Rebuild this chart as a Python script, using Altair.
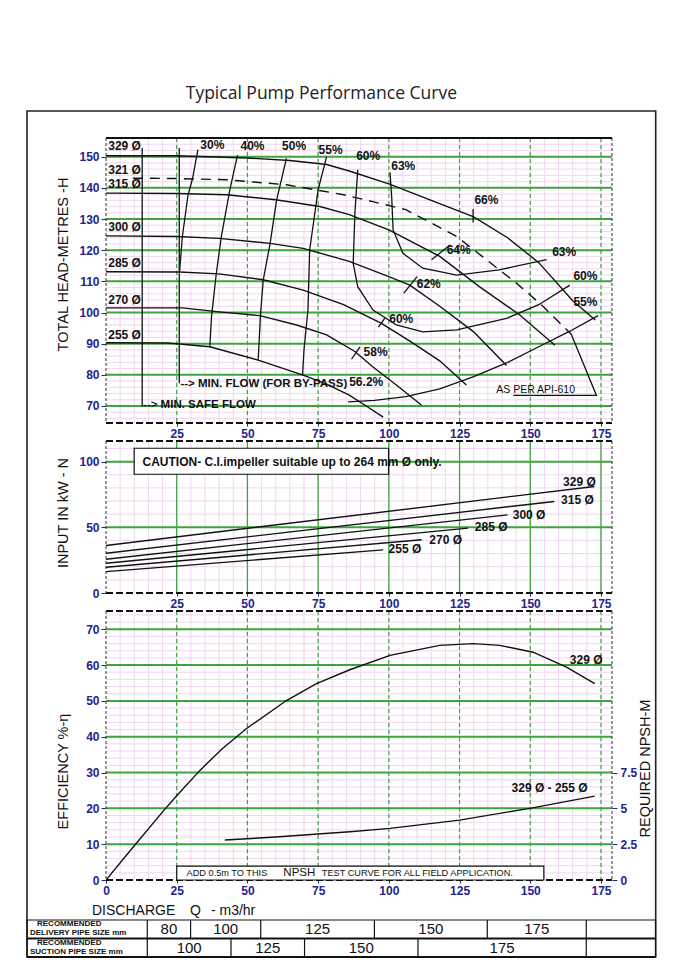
import altair as alt
import pandas as pd

TITLE = "Typical Pump Performance Curve"

# ---------- Q-H curves: (Q m3/hr, H m) per impeller diameter ----------
head_329 = [(0, 150.3), (25, 150.3), (50, 149.6), (65, 148.8), (78, 147.5), (86, 145.4), (100, 141.3),
            (115, 136.0), (130, 130.7), (142, 124.0), (153, 116.0), (165, 103.8), (173, 97.6)]
head_321 = [(9.5, 143.1), (25, 143.0), (42.6, 142.6), (63.8, 141.0), (84, 137.8), (94.3, 135.6), (106, 133.0),
            (124, 124.4), (133, 118.0), (145, 109.5), (154.5, 102.0), (164.5, 93.0)]
head_315 = [(0, 138.3), (25, 138.2), (42.6, 137.8), (60, 136.2), (75.6, 134.0), (86, 131.4), (100, 126.5),
            (118, 118.0), (132, 108.3), (146.3, 99.2), (158.7, 89.5)]
head_300 = [(0, 124.6), (25, 124.4), (40, 123.8), (58, 122.2), (69.7, 120.6), (86, 116.4), (100, 111.5),
            (107.4, 108.8), (118, 102.0), (130, 93.8), (141.6, 83.0)]
head_285 = [(0, 113.1), (26, 113.0), (40, 112.4), (55.6, 110.5), (69.7, 107.2), (84, 102.5), (97.4, 96.5),
            (108, 90.5), (118, 84.5), (127.4, 76.7)]
head_270 = [(0, 101.5), (27, 101.5), (40, 100.2), (54.4, 99.0), (67.4, 96.0), (78, 92.8), (88, 87.5),
            (94.4, 82.5), (103, 76.5), (111.5, 70.3)]
head_255 = [(0, 90.3), (22, 90.2), (36.7, 89.0), (53.8, 84.7), (69.7, 79.9), (78, 77.0), (86, 73.5),
            (92, 70.0), (98, 66.4)]

# ---------- iso-efficiency contours (Q, H) ----------
iso_30 = [(32.5, 152.3), (30.6, 143.0), (29.0, 137.7), (27.0, 124.4), (26.0, 113.0)]
iso_40 = [(46.5, 150.5), (43.8, 139.4), (40.8, 124.4), (39.0, 112.6), (37.3, 98.6), (36.7, 88.8)]
iso_50 = [(63.8, 149.5), (60.3, 136.0), (58.0, 122.0), (55.6, 110.5), (54.6, 99.0), (53.8, 84.7)]
iso_55_upper = [(78, 150.0), (75, 139.4), (72, 120.0), (71.4, 100.8), (70, 88.0), (69.5, 80.0)]
iso_55_lower = [(85.6, 71.3), (95, 71.8), (106, 73.0), (118, 75.5), (130, 79.4), (142, 84.0), (153, 89.0),
                (164, 94.0), (174, 99.0)]
iso_60 = [(89, 145.8), (88, 131.9), (87.4, 115.8), (89, 108.3), (94.4, 100.8), (102.7, 96.0), (112, 93.8),
          (124, 94.4), (141.6, 98.1), (153, 102.5), (164, 108.8)]
iso_63 = [(100.4, 145.0), (101, 137.2), (101.5, 126.5), (105, 119.0), (112, 114.2), (124, 112.0),
          (139, 113.7), (155.8, 117.0)]
tick_66 = [(129.8, 133.2), (129.8, 128.9)]
tick_64 = [(115.1, 116.9), (121.6, 121.7)]
tick_62 = [(105.3, 106.2), (110.0, 111.5)]
tick_60 = [(96.3, 95.3), (98.6, 98.2)]
tick_58 = [(86.8, 85.0), (89.8, 89.0)]
min_flow = [(25.9, 152.8), (25.9, 77.3)]
min_safe_flow = [(12.8, 152.8), (12.8, 69.9)]
api_610_end = [(164.5, 93.0), (173.4, 73.4), (144.0, 73.4)]

diam_names = ["329 Ø", "321 Ø", "315 Ø", "300 Ø", "285 Ø", "270 Ø", "255 Ø"]
diam_label_h = [153.3, 145.8, 141.2, 127.3, 115.9, 103.9, 92.9]
iso_names = ["30%", "40%", "50%", "55%", "60%", "63%", "66%", "64%", "63%", "60%", "55%", "62%", "60%", "58%", "56.2%"]
iso_label_q = [37.6, 51.8, 66.5, 79.4, 92.7, 105.1, 134.5, 124.7, 162.0, 169.5, 169.5, 114.1, 104.4, 95.3, 92.0]
iso_label_h = [153.9, 153.5, 153.3, 152.0, 150.1, 146.9, 136.0, 120.2, 119.3, 111.6, 103.4, 109.2, 97.9, 87.2, 77.6]
flow_notes = ["--> MIN. FLOW (FOR BY-PASS)", "--> MIN. SAFE FLOW"]
flow_note_q = [26.3, 13.1]
flow_note_h = [77.15, 70.2]
API_NOTE = "AS PER API-610"

# ---------- power input (Q, kW) ----------
power_329 = [(0, 36.2), (172.7, 81.1)]
power_315 = [(0, 30.3), (158.5, 69.7)]
power_300 = [(0, 25.7), (142.0, 59.5)]
power_285 = [(0, 22.6), (128.0, 49.4)]
power_270 = [(0, 19.6), (111.6, 40.5)]
power_255 = [(0, 16.3), (98.0, 32.8)]
power_names = ["329 Ø", "315 Ø", "300 Ø", "285 Ø", "270 Ø", "255 Ø"]
power_label_q = [161.6, 160.9, 143.8, 130.4, 114.3, 99.9]
power_label_kw = [84.8, 70.9, 59.5, 50.2, 40.5, 33.4]
CAUTION = "CAUTION- C.I.impeller suitable up to 264 mm Ø only."

# ---------- efficiency (Q, %) and NPSH required (Q, m) ----------
eff_329 = [(0, 0), (9.7, 9.3), (20.3, 19.3), (25, 23.5), (33.2, 30.6), (41, 36.6), (49.7, 42.3), (63.8, 50.1),
           (74.4, 54.8), (86.2, 58.7), (100.4, 62.7), (118, 65.5), (129.8, 66.0), (139.2, 65.5), (151, 63.6),
           (162.8, 59.4), (172.8, 54.8)]
npsh_req = [(42, 2.79), (60, 3.0), (86.2, 3.37), (100.4, 3.6), (125, 4.18), (149.8, 5.0), (172.8, 5.85)]
NPSH_NOTE = ["ADD 0.5m TO THIS", "NPSH", "TEST CURVE FOR ALL FIELD APPLICATION."]

# ---------- pipe size table ----------
delivery_sizes = ["80", "100", "125", "150", "175", ""]
delivery_edges = [14.6, 29.9, 54.7, 94.9, 134.8, 169.8, 194.3]
suction_sizes = ["100", "125", "150", "175", ""]
suction_edges = [14.6, 44.2, 70.2, 110.3, 169.8, 194.3]
TABLE_LEFT = -27.9
row_labels = ["RECOMMENDED", "DELIVERY PIPE SIZE mm", "RECOMMENDED", "SUCTION PIPE SIZE mm"]
x_title = ["DISCHARGE", "Q", "- m3/hr"]

# ---------- style / layout ----------
NAVY = "#24248c"
GREEN = "#3ea53e"
PINK = "#efd7ee"
INK = "#111111"
FONT = "Liberation Sans"
W = 506
H_TOP, H_MID, H_BOT, H_TAB = 285, 152, 269, 59
GAP = 18

Q_DOM = [0, 178.9]
XS = alt.Scale(domain=Q_DOM, nice=False, zero=False)
TOP_DOM = [64.54, 156.0]
MID_DOM = [0, 115.7]
BOT_DOM = [0, 75.1]
YS_TOP = alt.Scale(domain=TOP_DOM, nice=False, zero=False)
YS_MID = alt.Scale(domain=MID_DOM, nice=False, zero=False)
YS_BOT = alt.Scale(domain=BOT_DOM, nice=False, zero=False)
YS_NPSH = alt.Scale(domain=[0, 18.775], nice=False, zero=False)
YS_TAB = alt.Scale(domain=[-1.189, 2], nice=False, zero=False, reverse=True)

ONE = pd.DataFrame({"a": [0]})


def curves_df(named):
    rows = []
    for name, pts in named:
        for i, (x, y) in enumerate(pts):
            rows.append({"curve": name, "i": i, "x": x, "y": y})
    return pd.DataFrame(rows)


def axis_line(ys, ydom, x_axis, y_axis):
    """Invisible line spanning the panel's domain; it only carries the axes."""
    df = pd.DataFrame({"x": Q_DOM, "y": ydom, "i": [0, 1]})
    return alt.Chart(df).mark_line(opacity=0).encode(
        x=alt.X("x:Q", scale=XS, axis=x_axis), y=alt.Y("y:Q", scale=ys, axis=y_axis), order="i:Q")


def lines(named, ys, dash=None, width=1.4):
    kw = dict(color=INK, strokeWidth=width, clip=True)
    if dash:
        kw["strokeDash"] = dash
    return alt.Chart(curves_df(named)).mark_line(**kw).encode(
        x=alt.X("x:Q", scale=XS, axis=None),
        y=alt.Y("y:Q", scale=ys, axis=None),
        detail="curve:N", order="i:Q")


def texts(labels, xv, yv, ys, size=12, weight="bold", align="center", color=INK, font=FONT):
    df = pd.DataFrame({"t": labels, "x": xv, "y": yv})
    return alt.Chart(df).mark_text(font=font, fontSize=size, fontWeight=weight, align=align,
                                   baseline="middle", color=color).encode(
        x=alt.X("x:Q", scale=XS, axis=None), y=alt.Y("y:Q", scale=ys, axis=None), text="t:N")


def vrules(values, color, width, dash=None):
    kw = dict(color=color, strokeWidth=width)
    if dash:
        kw["strokeDash"] = dash
    return alt.Chart(pd.DataFrame({"v": values})).mark_rule(**kw).encode(
        x=alt.X("v:Q", scale=XS, axis=None))


def hrules(values, ys, color, width, dash=None):
    kw = dict(color=color, strokeWidth=width)
    if dash:
        kw["strokeDash"] = dash
    return alt.Chart(pd.DataFrame({"v": values})).mark_rule(**kw).encode(
        y=alt.Y("v:Q", scale=ys, axis=None))


def borders(h, top_solid):
    base = alt.Chart(ONE)
    if top_solid:
        top = base.mark_rule(color=INK, strokeWidth=2).encode(x=alt.value(0), x2=alt.value(W), y=alt.value(0))
    else:
        top = base.mark_rule(color=INK, strokeWidth=2, strokeDash=[7, 3]).encode(
            x=alt.value(0), x2=alt.value(W), y=alt.value(0))
    bottom = base.mark_rule(color=INK, strokeWidth=2, strokeDash=[7, 3]).encode(
        x=alt.value(0), x2=alt.value(W), y=alt.value(h))
    left = base.mark_rule(color="#333", strokeWidth=1, strokeDash=[3, 2]).encode(
        x=alt.value(0), y=alt.value(0), y2=alt.value(h))
    right = base.mark_rule(color="#333", strokeWidth=1, strokeDash=[3, 2]).encode(
        x=alt.value(W), y=alt.value(0), y2=alt.value(h))
    return [top, bottom, left, right]


def y_title(text, cy):
    return alt.Chart(ONE).mark_text(font=FONT, fontSize=14.5, color=INK, angle=270, align="center",
                                    baseline="middle").encode(
        x=alt.value(-42), y=alt.value(cy), text=alt.value(text))


minor_q = list(range(5, 179, 5))
major_q = [25, 50, 75, 100, 125, 150, 175]

x_axis_mid = alt.Axis(orient="bottom", values=major_q, tickSize=3, labelPadding=2, title=None)

# ================= TOP PANEL =================
y_axis_top = alt.Axis(orient="left", values=list(range(70, 151, 10)), tickSize=5, labelPadding=2, title=None)
top_content = alt.layer(
    vrules(minor_q, PINK, 1),
    hrules(list(range(66, 157, 2)), YS_TOP, PINK, 1),
    hrules(list(range(70, 151, 10)), YS_TOP, GREEN, 2),
    vrules(major_q, GREEN, 1.2, dash=[4, 3]),
    *borders(H_TOP, True),
    lines([("329", head_329), ("315", head_315), ("300", head_300), ("285", head_285),
           ("270", head_270), ("255", head_255)], YS_TOP),
    lines([("321", head_321)], YS_TOP, dash=[10, 7]),
    lines([("e30", iso_30), ("e40", iso_40), ("e50", iso_50), ("e55a", iso_55_upper), ("e55b", iso_55_lower),
           ("e60", iso_60), ("e63", iso_63), ("t66", tick_66), ("t64", tick_64), ("t62", tick_62),
           ("t60", tick_60), ("t58", tick_58), ("mf", min_flow), ("msf", min_safe_flow),
           ("api", api_610_end)], YS_TOP, width=1.3),
    texts(diam_names, [0.8] * len(diam_names), diam_label_h, YS_TOP, align="left"),
    texts(iso_names, iso_label_q, iso_label_h, YS_TOP),
    texts(flow_notes, flow_note_q, flow_note_h, YS_TOP, size=11.5, align="left"),
    texts([API_NOTE], [151.9], [75.2], YS_TOP, size=10.5, weight="normal"),
    y_title("TOTAL HEAD-METRES -H", 126.5),
    # page title and outer frame
    alt.Chart(ONE).mark_text(font="Open Sans", fontSize=17.5, color="#222", align="center",
                             baseline="middle").encode(
        x=alt.value(215.4), y=alt.value(-44), text=alt.value(TITLE)),
    alt.Chart(ONE).mark_rect(filled=False, stroke="#222", strokeWidth=1.6).encode(
        x=alt.value(-79), x2=alt.value(549.7), y=alt.value(-27), y2=alt.value(819)),
    alt.Chart(ONE).mark_rect(opacity=0).encode(
        x=alt.value(-98), x2=alt.value(-97), y=alt.value(-130), y2=alt.value(-129)),
)
top = alt.layer(top_content, axis_line(YS_TOP, TOP_DOM, x_axis_mid, y_axis_top)).resolve_scale(
    x="independent", y="independent").properties(width=W, height=H_TOP)

# ================= MIDDLE PANEL =================
y_axis_mid = alt.Axis(orient="left", values=[0, 50, 100], tickSize=5, labelPadding=2, title=None)
caution_box = alt.Chart(pd.DataFrame({"x": [9.97], "x2": [99.9], "y": [90.4], "y2": [110.2]})).mark_rect(
    fill="white", stroke=INK, strokeWidth=1.2).encode(
    x=alt.X("x:Q", scale=XS, axis=None), x2="x2:Q",
    y=alt.Y("y:Q", scale=YS_MID, axis=None), y2="y2:Q")
mid_content = alt.layer(
    vrules(minor_q, PINK, 1),
    hrules(list(range(10, 116, 10)), YS_MID, PINK, 1),
    hrules([50, 100], YS_MID, GREEN, 2),
    vrules(major_q, GREEN, 1.3),
    *borders(H_MID, False),
    caution_box,
    texts([CAUTION], [12.9], [100.0], YS_MID, align="left"),
    lines([("329", power_329), ("315", power_315), ("300", power_300), ("285", power_285),
           ("270", power_270), ("255", power_255)], YS_MID),
    texts(power_names, power_label_q, power_label_kw, YS_MID, align="left"),
    y_title("INPUT IN kW - N", 72),
)
mid = alt.layer(mid_content, axis_line(YS_MID, MID_DOM, x_axis_mid, y_axis_mid)).resolve_scale(
    x="independent", y="independent").properties(width=W, height=H_MID)

# ================= BOTTOM PANEL =================
y_axis_bot = alt.Axis(orient="left", values=list(range(0, 71, 10)), tickSize=5, labelPadding=2, title=None)
x_axis_bot = alt.Axis(orient="bottom", values=[0] + major_q, tickSize=3, labelPadding=2, title=None)
npsh_axis = alt.Axis(orient="right", values=[0, 2.5, 5, 7.5], labelExpr="'' + datum.value", tickSize=5,
                     labelPadding=3, title="REQUIRED NPSH-M", titleX=33, titleY=157, titleAngle=270,
                     titleBaseline="middle")
npsh_box = alt.Chart(pd.DataFrame({"x": [25.0], "x2": [154.8], "y": [0.0], "y2": [3.9]})).mark_rect(
    fill="white", stroke=INK, strokeWidth=1.2).encode(
    x=alt.X("x:Q", scale=XS, axis=None), x2="x2:Q",
    y=alt.Y("y:Q", scale=YS_BOT, axis=None), y2="y2:Q")
bot_content = alt.layer(
    vrules(minor_q, PINK, 1),
    hrules(list(range(2, 75, 2)), YS_BOT, PINK, 1),
    hrules(list(range(10, 71, 10)), YS_BOT, GREEN, 2),
    vrules(major_q, GREEN, 1.2, dash=[4, 3]),
    *borders(H_BOT, False),
    npsh_box,
    texts([NPSH_NOTE[0]], [28.5], [1.95], YS_BOT, size=9.2, weight="normal", align="left"),
    texts([NPSH_NOTE[1]], [62.7], [1.95], YS_BOT, size=11.5, weight="normal", align="left"),
    texts([NPSH_NOTE[2]], [76.3], [1.95], YS_BOT, size=9.2, weight="normal", align="left"),
    lines([("329", eff_329)], YS_BOT),
    texts(["329 Ø", "329 Ø - 255 Ø"], [164.0, 143.4], [61.4, 25.8], YS_BOT, align="left"),
    y_title("EFFICIENCY %-η", 160.5),
)
npsh_line = alt.Chart(curves_df([("npsh", npsh_req)])).mark_line(color=INK, strokeWidth=1.4).encode(
    x=alt.X("x:Q", scale=XS, axis=None),
    y=alt.Y("y:Q", scale=YS_NPSH, axis=npsh_axis),
    order="i:Q")
bot = alt.layer(bot_content, axis_line(YS_BOT, BOT_DOM, x_axis_bot, y_axis_bot), npsh_line).resolve_scale(
    x="independent", y="independent").properties(width=W, height=H_BOT)

# ================= PIPE SIZE TABLE =================
hl = pd.DataFrame({"x": [TABLE_LEFT] * 3, "x2": [delivery_edges[-1]] * 3, "y": [0, 1, 2], "w": [1.2, 2.2, 2.2]})
vl_rows = []
for e in [TABLE_LEFT] + delivery_edges:
    vl_rows.append({"x": e, "y": 0, "y2": 1})
for e in [TABLE_LEFT] + suction_edges:
    vl_rows.append({"x": e, "y": 1, "y2": 2})
vl_df = pd.DataFrame(vl_rows)
cell_q = [(a + b) / 2 for a, b in zip(delivery_edges[:-1], delivery_edges[1:])] + \
         [(a + b) / 2 for a, b in zip(suction_edges[:-1], suction_edges[1:])]
cell_t = delivery_sizes + suction_sizes
cell_r = [0.5] * len(delivery_sizes) + [1.5] * len(suction_sizes)

table = alt.layer(
    alt.Chart(hl).mark_rule(color=INK).encode(
        x=alt.X("x:Q", scale=XS, axis=None), x2="x2:Q",
        y=alt.Y("y:Q", scale=YS_TAB, axis=None), strokeWidth=alt.StrokeWidth("w:Q", scale=None)),
    alt.Chart(vl_df).mark_rule(color=INK, strokeWidth=1.2).encode(
        x=alt.X("x:Q", scale=XS, axis=None),
        y=alt.Y("y:Q", scale=YS_TAB, axis=None), y2="y2:Q"),
    texts(cell_t, cell_q, cell_r, YS_TAB, size=15, weight="normal"),
    texts(row_labels, [-24.4, -26.9, -24.4, -26.9], [0.23, 0.69, 1.26, 1.71], YS_TAB, size=8, align="left"),
    texts(x_title, [-4.95, 29.7, 37.1], [-0.486] * 3, YS_TAB, size=14, weight="normal", align="left"),
).properties(width=W, height=H_TAB)

chart = alt.vconcat(top, mid, bot, table, spacing=GAP, bounds="flush").properties(
    padding=0, background="white"
).configure_view(stroke=None).configure_axis(
    labelFont=FONT, labelFontSize=12, labelFontWeight="bold", labelColor=NAVY,
    tickColor=NAVY, domain=False, grid=False, labelFlush=False,
    titleFont=FONT, titleFontSize=14.5, titleFontWeight="normal", titleColor=INK,
)

chart.save("out.html", embed_options={"renderer": "svg", "actions": False})
